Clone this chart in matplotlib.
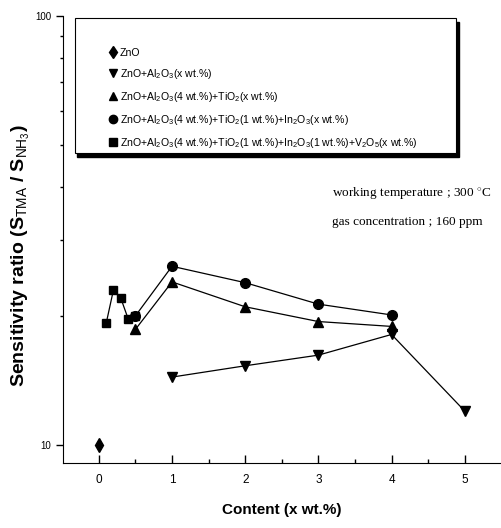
import numpy as np
import matplotlib
matplotlib.use('Agg')
from matplotlib import pyplot as plt
from matplotlib.patches import Rectangle
from matplotlib.ticker import FixedLocator, NullFormatter

plt.rcParams['mathtext.fontset'] = 'custom'
plt.rcParams['mathtext.rm'] = 'Liberation Sans'
plt.rcParams['mathtext.it'] = 'Liberation Sans'
plt.rcParams['mathtext.bf'] = 'Liberation Sans:bold'

# data
zno_x = [0]
zno_y = [10.0]

al_x = [1, 2, 3, 4, 5]
al_y = [14.4, 15.3, 16.2, 18.1, 12.0]

ti_x = [0.5, 1, 2, 3, 4]
ti_y = [18.6, 24.0, 21.0, 19.4, 18.9]

in_x = [0.5, 1, 2, 3, 4]
in_y = [20.0, 26.1, 23.9, 21.3, 20.1]

v_x = [0.1, 0.2, 0.3, 0.4, 0.5]
v_y = [19.2, 23.0, 22.0, 19.7, 20.0]

labels = ['ZnO',
          'ZnO+Al$_2$O$_3$(x wt.%)',
          'ZnO+Al$_2$O$_3$(4 wt.%)+TiO$_2$(x wt.%)',
          'ZnO+Al$_2$O$_3$(4 wt.%)+TiO$_2$(1 wt.%)+In$_2$O$_3$(x wt.%)',
          'ZnO+Al$_2$O$_3$(4 wt.%)+TiO$_2$(1 wt.%)+In$_2$O$_3$(1 wt.%)+V$_2$O$_5$(x wt.%)']

fig = plt.figure(figsize=(5.01, 5.28), dpi=100)
ax = fig.add_axes([0.1257, 0.1231, 0.872, 0.8466])

kw = dict(color='black', lw=0.9, markersize=7)
h0, = ax.plot(zno_x, zno_y, marker='d', ls='none', **kw)
h1, = ax.plot(al_x, al_y, marker='v', **kw)
h2, = ax.plot(ti_x, ti_y, marker='^', **kw)
h3, = ax.plot(in_x, in_y, marker='o', **kw)
h4, = ax.plot(v_x, v_y, marker='s', markersize=6, color='black', lw=0.9)

ax.set_yscale('log')
ax.set_ylim(9.08, 100)
ax.set_xlim(-0.49, 5.48)

ax.spines['top'].set_visible(False)
ax.spines['right'].set_visible(False)

ax.set_xticks([0, 1, 2, 3, 4, 5])
ax.set_xticks(np.arange(0.5, 5, 1.0), minor=True)
ax.tick_params(axis='x', which='major', direction='in', length=6, width=1, pad=8)
ax.tick_params(axis='x', which='minor', direction='in', length=3, width=1)
ax.set_xticklabels(['0', '1', '2', '3', '4', '5'], fontfamily='Liberation Sans', fontsize=8.5)

ax.yaxis.set_major_locator(FixedLocator([10, 100]))
ax.yaxis.set_minor_locator(FixedLocator([20, 30, 40, 50, 60, 70, 80, 90]))
ax.yaxis.set_minor_formatter(NullFormatter())
ax.set_yticklabels(['10', '100'], fontfamily='Liberation Sans', fontsize=7)
ax.tick_params(axis='y', which='major', direction='out', length=5, width=1)
ax.tick_params(axis='y', which='minor', direction='out', length=2, width=1)

ax.set_ylabel('Sensitivity ratio (S$_{\\rm TMA}$ / S$_{\\rm NH_3}$)',
              fontfamily='Liberation Sans', fontweight='bold', fontsize=14)
ax.yaxis.set_label_coords(-0.072, 0.463)
ax.set_xlabel('Content (x wt.%)', fontfamily='Liberation Sans', fontweight='bold',
              fontsize=11, labelpad=12)

# legend box with drop shadow
box = dict(x=0.027, y=0.693, w=0.873, h=0.302)
ax.add_patch(Rectangle((box['x'] + 0.006, box['y'] - 0.008), box['w'], box['h'],
                       transform=ax.transAxes, facecolor='black', edgecolor='black', zorder=4))
ax.add_patch(Rectangle((box['x'], box['y']), box['w'], box['h'],
                       transform=ax.transAxes, facecolor='white', edgecolor='black', lw=0.8, zorder=5))
leg = ax.legend([h0, h1, h2, h3, h4], labels, loc='upper left', bbox_to_anchor=(0.095, 0.94),
                frameon=False, handlelength=0.6, handletextpad=0.35, labelspacing=0.85,
                borderpad=0, prop={'family': 'Liberation Sans', 'size': 7.6})
for lh in leg.legend_handles:
    lh.set_linestyle('none')
    lh.set_markersize(6)
leg.set_zorder(6)

ax.text(0.615, 0.594, 'working temperature ; 300 $^{\\circ}$C', transform=ax.transAxes,
        fontfamily='Liberation Serif', fontsize=9.5)
ax.text(0.615, 0.532, 'gas concentration ; 160 ppm', transform=ax.transAxes,
        fontfamily='Liberation Serif', fontsize=9.5)

fig.savefig('out.png', dpi=100)
